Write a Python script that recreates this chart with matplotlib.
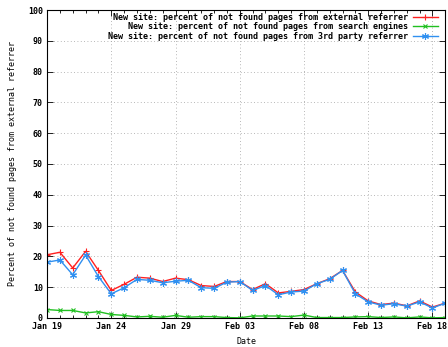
import numpy as np
import matplotlib
matplotlib.use("Agg")
import matplotlib.pyplot as plt
import matplotlib.dates as mdates
from matplotlib.ticker import MultipleLocator

dates = np.arange(np.datetime64("2009-01-19"), np.datetime64("2009-02-20"))

external = [20.5, 21.3, 16.2, 21.6, 15.4, 8.9, 10.9, 13.2, 12.9, 11.8,
            12.9, 12.4, 10.5, 10.2, 11.8, 11.8, 9.2, 11.1, 8.1, 8.6,
            9.2, 11.1, 12.7, 15.4, 8.4, 5.5, 4.3, 4.8, 3.9, 5.5,
            3.5, 4.8]
search = [2.7, 2.4, 2.4, 1.6, 2.0, 1.1, 0.8, 0.3, 0.5, 0.2,
          0.8, 0.2, 0.4, 0.4, 0.1, 0.0, 0.6, 0.6, 0.6, 0.4,
          0.9, 0.1, 0.1, 0.1, 0.3, 0.4, 0.1, 0.3, 0.0, 0.3,
          0.0, 0.1]
third_party = [18.1, 18.8, 14.0, 20.4, 13.4, 7.8, 9.8, 12.5, 12.2, 11.4,
               11.9, 12.2, 9.8, 9.6, 11.6, 11.8, 8.9, 10.5, 7.5, 8.4,
               8.7, 11.1, 12.5, 15.4, 7.8, 5.2, 4.1, 4.6, 3.8, 5.2,
               3.2, 4.8]

labels = ["New site: percent of not found pages from external referrer",
          "New site: percent of not found pages from search engines",
          "New site: percent of not found pages from 3rd party referrer"]

plt.rcParams['font.family'] = 'DejaVu Sans Mono'
plt.rcParams['font.weight'] = 'bold'
plt.rcParams['font.size'] = 6.0

fig = plt.figure(figsize=(4.48, 3.47), dpi=100)
ax = fig.add_axes([0.105, 0.084, 0.889, 0.887])

x = dates.astype("datetime64[D]").astype(object)
ax.plot(x, external, color="#ff2020", lw=1, marker="+", ms=5, mew=0.8, label=labels[0])
ax.plot(x, search, color="#20c020", lw=1, marker="x", ms=3.5, mew=0.8, label=labels[1])
ax.plot(x, third_party, color="#3090f0", lw=1, marker=(6, 2, 0), ms=5, mew=0.8, label=labels[2])

ax.set_xlim(x[0], x[-1])
ax.set_ylim(0, 100)
ax.set_xticks(x[::5])
ax.xaxis.set_major_formatter(mdates.DateFormatter("%b %d"))
ax.xaxis.set_minor_locator(mdates.DayLocator())
ax.yaxis.set_major_locator(MultipleLocator(10))

ax.tick_params(which="both", direction="in", top=True, right=True, pad=3)
ax.tick_params(which="major", length=4, width=0.6)
ax.tick_params(which="minor", length=2, width=0.6)
ax.grid(True, which="major", color="#a0a0a0", ls=(0, (1, 3)), lw=0.6)
for s in ax.spines.values():
    s.set_linewidth(0.8)

ax.set_xlabel("Date", labelpad=4)
ax.set_ylabel("Percent of not found pages from external referrer", labelpad=8)

leg = ax.legend(loc="upper right", bbox_to_anchor=(1, 1.015), frameon=False,
                markerfirst=False, handlelength=3.0, handletextpad=0.6,
                labelspacing=0.05, borderaxespad=0.5, fontsize=6.0)
for t in leg.get_texts():
    t.set_ha("right")

fig.savefig("out.png", dpi=100)
